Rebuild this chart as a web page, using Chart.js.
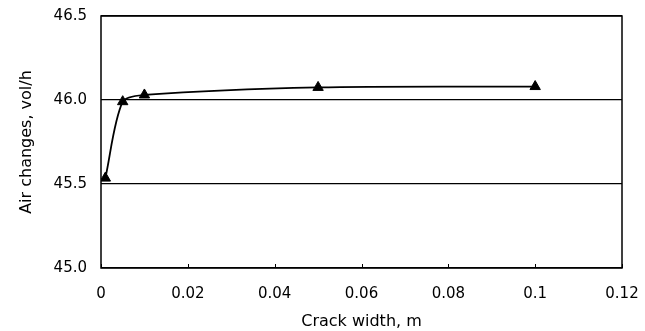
<!DOCTYPE html>
<html>
<head>
<meta charset="utf-8">
<script src="https://cdn.jsdelivr.net/npm/chart.js@4.4.1/dist/chart.umd.min.js"></script>
<style>
  html, body { margin: 0; padding: 0; background: #fff; }
  #wrap { width: 645px; height: 331px; }
</style>
</head>
<body>
<div id="wrap"><canvas id="c" width="645" height="331"></canvas></div>
<script>
// Crack width (m) and resulting air change rate (vol/h)
const crackWidth = [0.001, 0.005, 0.01, 0.05, 0.1];
const airChanges = [45.535, 45.99, 46.03, 46.075, 46.08];

const xTickValues = [0, 0.02, 0.04, 0.06, 0.08, 0.1, 0.12];
const xTickLabels = ['0', '0.02', '0.04', '0.06', '0.08', '0.1', '0.12'];
const yTickValues = [45.0, 45.5, 46.0, 46.5];
const yTickLabels = ['45.0', '45.5', '46.0', '46.5'];

const FONT = '"DejaVu Sans", "Liberation Sans", Arial, sans-serif';

// Frame around the plot area plus short inward tick marks on the x axis
const framePlugin = {
  id: 'frame',
  afterDraw(chart) {
    const { ctx, chartArea: a, scales } = chart;
    ctx.save();
    ctx.strokeStyle = '#000';
    ctx.lineWidth = 1.5;
    ctx.strokeRect(a.left, a.top, a.right - a.left, a.bottom - a.top);
    ctx.lineWidth = 1;
    xTickValues.forEach(v => {
      const px = Math.round(scales.x.getPixelForValue(v)) + 0.5;
      ctx.beginPath();
      ctx.moveTo(px, a.bottom);
      ctx.lineTo(px, a.bottom - 4);
      ctx.stroke();
    });
    ctx.restore();
  }
};

new Chart(document.getElementById('c'), {
  type: 'scatter',
  data: {
    datasets: [{
      data: crackWidth.map((x, i) => ({ x, y: airChanges[i] })),
      showLine: true,
      borderColor: '#000',
      borderWidth: 1.8,
      tension: 0.3,
      pointStyle: 'triangle',
      pointRadius: 6,
      pointBackgroundColor: '#000',
      pointBorderColor: '#000',
      pointBorderWidth: 1
    }]
  },
  options: {
    responsive: false,
    animation: false,
    layout: { padding: { top: 16, right: 23, left: 0, bottom: 0 } },
    plugins: { legend: { display: false }, tooltip: { enabled: false } },
    scales: {
      x: {
        type: 'linear',
        min: 0, max: 0.12,
        afterBuildTicks(scale) { scale.ticks = xTickValues.map(v => ({ value: v })); },
        afterFit(scale) {
          scale.height = 63;
          scale.paddingLeft = 0;
          scale.paddingRight = 0;
        },
        grid: { display: false },
        border: { display: false },
        ticks: {
          padding: 9,
          color: '#000',
          font: { family: FONT, size: 15 },
          maxRotation: 0,
          callback: (v) => xTickLabels[xTickValues.indexOf(v)] ?? ''
        },
        title: {
          display: true,
          text: 'Crack width, m',
          color: '#000',
          font: { family: FONT, size: 16 },
          padding: { top: 4, bottom: 0 }
        }
      },
      y: {
        type: 'linear',
        min: 45.0, max: 46.5,
        afterBuildTicks(scale) { scale.ticks = yTickValues.map(v => ({ value: v })); },
        afterFit(scale) {
          scale.width = 101;
          scale.paddingTop = 0;
          scale.paddingBottom = 0;
        },
        grid: { color: '#000', lineWidth: 1.2, tickLength: 0, drawTicks: false },
        border: { display: false },
        ticks: {
          padding: 14,
          color: '#000',
          font: { family: FONT, size: 15 },
          callback: (v) => yTickLabels[yTickValues.indexOf(v)] ?? ''
        },
        title: {
          display: true,
          text: 'Air changes, vol/h',
          color: '#000',
          font: { family: FONT, size: 16 },
          padding: { top: 17, bottom: 0 }
        }
      }
    }
  },
  plugins: [framePlugin]
});
</script>
</body>
</html>
